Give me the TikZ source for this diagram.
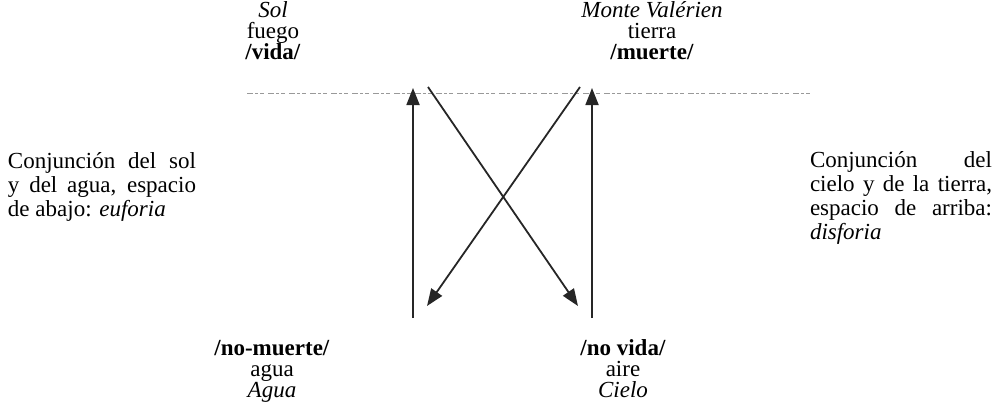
\documentclass[tikz,border=0pt]{standalone}
\usepackage{fontspec}
\setmainfont{Liberation Serif}
\usepackage{tikz}
\usetikzlibrary{arrows.meta, positioning}

\begin{document}
\begin{tikzpicture}[
      x=0.5pt, y=-0.5pt,
      every node/.style={inner sep=0pt, outer sep=0pt},
      label/.style={align=center, font=\fontsize{11.5}{10.5}\selectfont},
      side/.style={align=left, font=\fontsize{11.5}{12}\selectfont},
      arr/.style={line width=0.9pt, draw=black!85, -{Triangle[length=8.5pt,width=6.5pt]}},
      axis/.style={draw=black!40, line width=0.5pt, dash pattern=on 3pt off 1pt on 1.5pt off 1pt on 2pt off 2pt}
    ]
      \useasboundingbox (0,0) rectangle (1000,412);
      % poles
      \node[label, anchor=north] (sol) at (273,2) {\textit{Sol}\\fuego\\\textbf{/vida/}};
      \node[label, anchor=north] (monte) at (652,2) {\textit{Monte Valérien}\\tierra\\\textbf{/muerte/}};
      \node[label, anchor=north] (agua) at (272,340) {\textbf{/no-muerte/}\\agua\\\textit{Agua}};
      \node[label, anchor=north] (cielo) at (623,340) {\textbf{/no vida/}\\aire\\\textit{Cielo}};
      % side texts
      \node[side, anchor=west] (euforia) at (8,187)
        {\makebox[94pt][s]{Conjunción del sol}\\
         \makebox[94pt][s]{y del agua, espacio}\\
         de abajo: \textit{euforia}};
      \node[side, anchor=west] (disforia) at (810,198)
        {\makebox[91pt][s]{Conjunción del}\\
         \makebox[91pt][s]{cielo y de la tierra,}\\
         \makebox[91pt][s]{espacio de arriba:}\\
         \textit{disforia}};
      % axis
      \coordinate (axl) at (247,93);
      \coordinate (axr) at (812,93);
      \draw[axis] (axl) -- (axr);
      % arrows
      \coordinate (lb) at (413,318);
      \coordinate (lt) at (413,88);
      \coordinate (rb) at (592,318);
      \coordinate (rt) at (592,88);
      \coordinate (dl1) at (428,87);
      \coordinate (dl2) at (578,306);
      \coordinate (dr1) at (580,87);
      \coordinate (dr2) at (427,306);
      \draw[arr] (lb) -- (lt);
      \draw[arr] (rb) -- (rt);
      \draw[arr] (dl1) -- (dl2);
      \draw[arr] (dr1) -- (dr2);
    \end{tikzpicture}
\end{document}
